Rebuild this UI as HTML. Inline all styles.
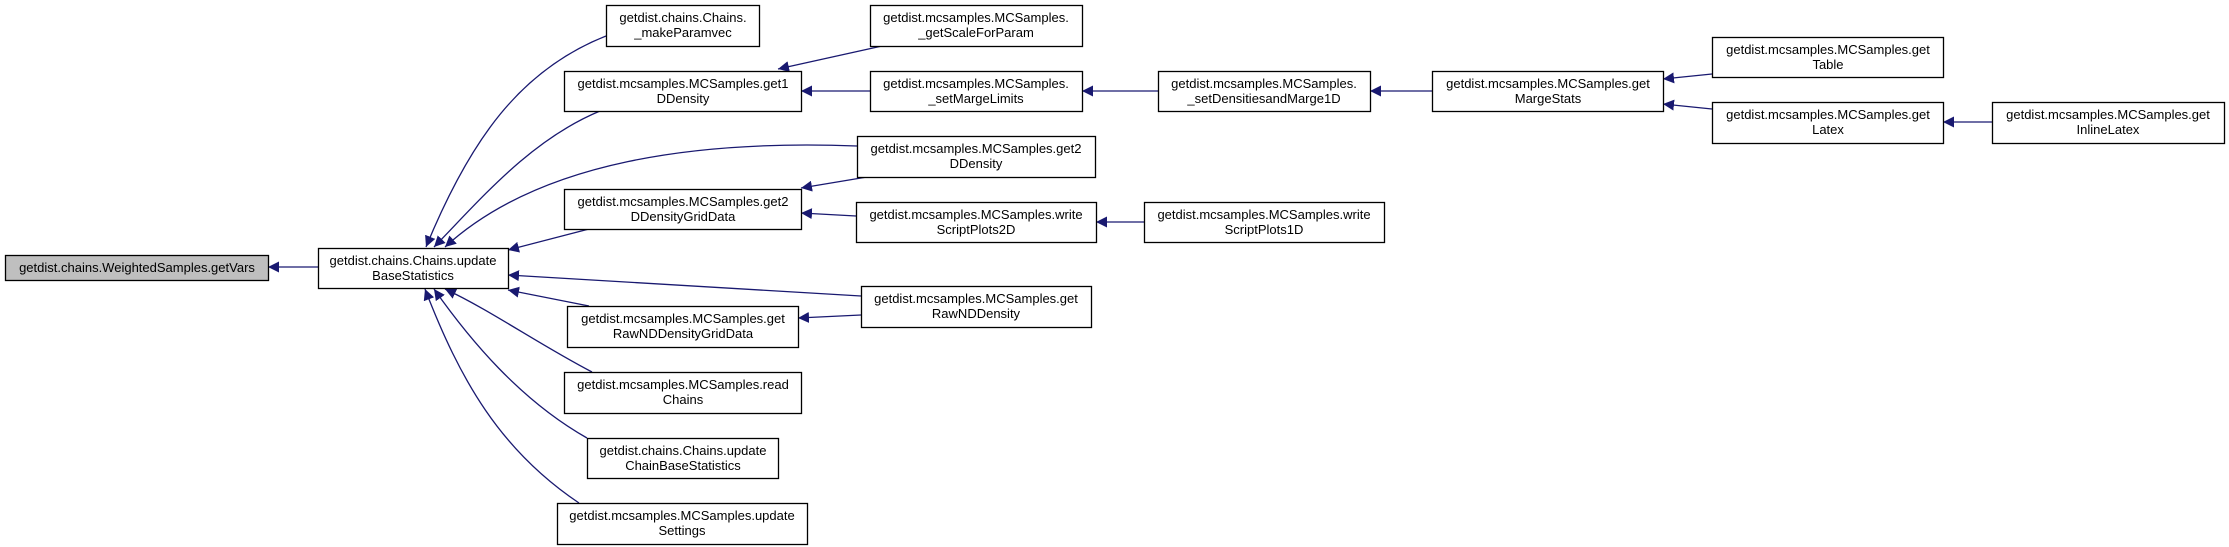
<!DOCTYPE html>
<html><head><style>
html,body{margin:0;padding:0;background:#fff;}
svg{display:block;}
text{font-family:"Liberation Sans",sans-serif;font-size:13px;fill:#000;}
</style></head><body>
<svg width="2229" height="547" viewBox="0 0 2229 547" xmlns="http://www.w3.org/2000/svg">
<defs>
<marker id="a" viewBox="0 0 10 10" refX="10" refY="5" markerWidth="11" markerHeight="11" markerUnits="userSpaceOnUse" orient="auto">
<path d="M0,0 L10,5 L0,10 z" fill="#191970"/>
</marker>
</defs>
<g fill="none" stroke="#191970" stroke-width="1.3" marker-end="url(#a)">
<path d="M318,267 L268,267"/>
<path d="M606,36 C520,70 470,140 426,247"/>
<path d="M600,111 C530,140 480,200 434,247"/>
<path d="M857,146 C700,140 540,160 445,247"/>
<path d="M589,229 L508,250"/>
<path d="M861,296 L508,275"/>
<path d="M589,306 L508,290"/>
<path d="M592,372 C540,345 490,310 445,289"/>
<path d="M587,438 C520,400 470,340 434,289"/>
<path d="M579,503 C500,450 460,380 425,289"/>
<path d="M882,46 L778,69"/>
<path d="M870,91 L801,91"/>
<path d="M1158,91 L1082,91"/>
<path d="M1432,91 L1370,91"/>
<path d="M1712,74 L1663,79"/>
<path d="M1712,109 L1663,104"/>
<path d="M1992,122 L1943,122"/>
<path d="M867,177 L801,188"/>
<path d="M856,216 L801,213"/>
<path d="M1144,222 L1096,222"/>
<path d="M861,315 L798,318"/>
</g>
<g stroke="#000" stroke-width="1.3" fill="#fff">
<rect x="5.5" y="255.5" width="263" height="25" fill="#bfbfbf"/>
<rect x="318.5" y="248.5" width="190" height="40"/>
<rect x="606.5" y="5.5" width="153" height="41"/>
<rect x="564.5" y="71.5" width="237" height="40"/>
<rect x="564.5" y="189.5" width="237" height="40"/>
<rect x="567.5" y="306.5" width="231" height="41"/>
<rect x="564.5" y="372.5" width="237" height="41"/>
<rect x="587.5" y="438.5" width="191" height="40"/>
<rect x="557.5" y="503.5" width="250" height="41"/>
<rect x="870.5" y="5.5" width="212" height="41"/>
<rect x="870.5" y="71.5" width="212" height="40"/>
<rect x="1158.5" y="71.5" width="212" height="40"/>
<rect x="1432.5" y="71.5" width="231" height="40"/>
<rect x="857.5" y="136.5" width="238" height="41"/>
<rect x="856.5" y="202.5" width="240" height="40"/>
<rect x="1144.5" y="202.5" width="240" height="40"/>
<rect x="861.5" y="286.5" width="230" height="41"/>
<rect x="1712.5" y="37.5" width="231" height="40"/>
<rect x="1712.5" y="102.5" width="231" height="41"/>
<rect x="1992.5" y="102.5" width="232" height="41"/>
</g>
<g text-anchor="middle">
<text x="137" y="272">getdist.chains.WeightedSamples.getVars</text>
<text x="413" y="265">getdist.chains.Chains.update</text><text x="413" y="280">BaseStatistics</text>
<text x="683" y="22">getdist.chains.Chains.</text><text x="683" y="37">_makeParamvec</text>
<text x="683" y="88">getdist.mcsamples.MCSamples.get1</text><text x="683" y="103">DDensity</text>
<text x="683" y="206">getdist.mcsamples.MCSamples.get2</text><text x="683" y="221">DDensityGridData</text>
<text x="683" y="323">getdist.mcsamples.MCSamples.get</text><text x="683" y="338">RawNDDensityGridData</text>
<text x="683" y="389">getdist.mcsamples.MCSamples.read</text><text x="683" y="404">Chains</text>
<text x="683" y="455">getdist.chains.Chains.update</text><text x="683" y="470">ChainBaseStatistics</text>
<text x="682" y="520">getdist.mcsamples.MCSamples.update</text><text x="682" y="535">Settings</text>
<text x="976" y="22">getdist.mcsamples.MCSamples.</text><text x="976" y="37">_getScaleForParam</text>
<text x="976" y="88">getdist.mcsamples.MCSamples.</text><text x="976" y="103">_setMargeLimits</text>
<text x="1264" y="88">getdist.mcsamples.MCSamples.</text><text x="1264" y="103">_setDensitiesandMarge1D</text>
<text x="1548" y="88">getdist.mcsamples.MCSamples.get</text><text x="1548" y="103">MargeStats</text>
<text x="976" y="153">getdist.mcsamples.MCSamples.get2</text><text x="976" y="168">DDensity</text>
<text x="976" y="219">getdist.mcsamples.MCSamples.write</text><text x="976" y="234">ScriptPlots2D</text>
<text x="1264" y="219">getdist.mcsamples.MCSamples.write</text><text x="1264" y="234">ScriptPlots1D</text>
<text x="976" y="303">getdist.mcsamples.MCSamples.get</text><text x="976" y="318">RawNDDensity</text>
<text x="1828" y="54">getdist.mcsamples.MCSamples.get</text><text x="1828" y="69">Table</text>
<text x="1828" y="119">getdist.mcsamples.MCSamples.get</text><text x="1828" y="134">Latex</text>
<text x="2108" y="119">getdist.mcsamples.MCSamples.get</text><text x="2108" y="134">InlineLatex</text>
</g>
</svg>
</body></html>
